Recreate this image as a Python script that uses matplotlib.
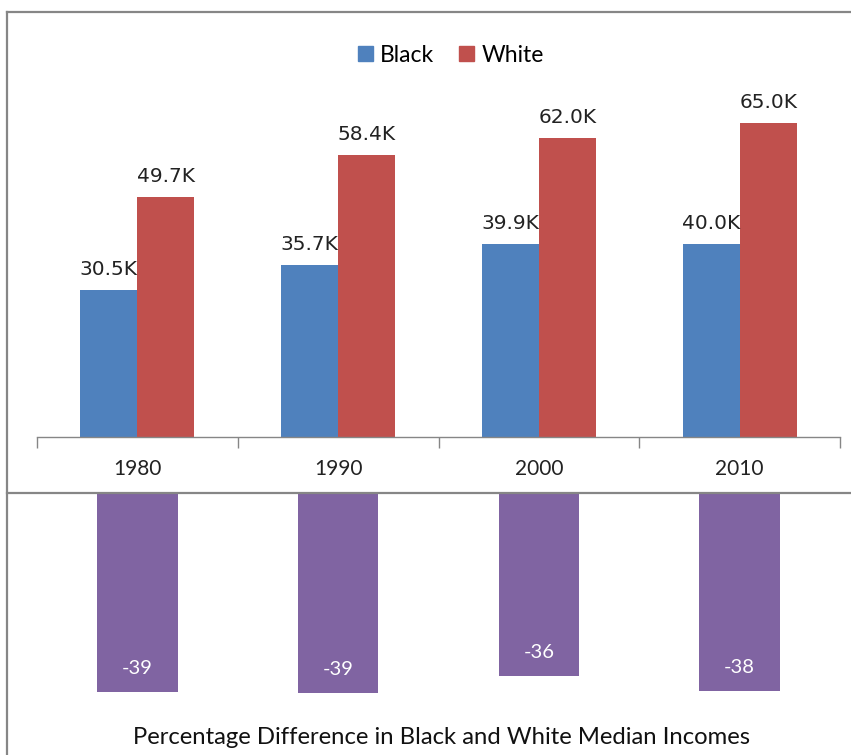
import matplotlib
matplotlib.use("Agg")
import matplotlib.pyplot as plt
from matplotlib.lines import Line2D
from matplotlib.patches import Patch

# data
years = ["1980", "1990", "2000", "2010"]
black = [30.5, 35.7, 39.9, 40.0]
white = [49.7, 58.4, 62.0, 65.0]
pct_diff = [-38.6, -38.9, -35.6, -38.4]
pct_labels = ["-39", "-39", "-36", "-38"]

BLUE = "#4F81BD"
RED = "#C0504D"
PURPLE = "#8064A2"
GRAY = "#868686"

W, H = 851, 755
fig = plt.figure(figsize=(W / 100, H / 100), dpi=100)
fig.patch.set_facecolor("white")


def fx(px):
    return px / W


def fy(py):
    return 1 - py / H


# top panel: grouped bars
ax = fig.add_axes([fx(37), fy(437), fx(840) - fx(37), fy(99) - fy(437)])
x = list(range(len(years)))
bw = 0.284
xb = [i - bw / 2 for i in x]
xw = [i + bw / 2 for i in x]
ax.bar(xb, black, bw, color=BLUE)
ax.bar(xw, white, bw, color=RED)
for xi, v in zip(xb, black):
    ax.text(xi, v + 2.3, f"{v:.1f}K", ha="center", va="bottom",
            fontsize=14.5, color="#222222", family="DejaVu Sans")
for xi, v in zip(xw, white):
    ax.text(xi, v + 2.3, f"{v:.1f}K", ha="center", va="bottom",
            fontsize=14.5, color="#222222", family="DejaVu Sans")

ax.set_xlim(-0.5, len(years) - 0.5)
ax.set_ylim(0, 70)
ax.set_yticks([])
ax.set_xticks(x)
ax.set_xticklabels(years, fontsize=15, family="Lato", color="#222222")
ax.tick_params(axis="x", which="major", length=0, pad=16)
ax.set_xticks([i - 0.5 for i in range(len(years) + 1)], minor=True)
ax.tick_params(axis="x", which="minor", length=8, width=1, color=GRAY, direction="out")
for s in ["top", "right", "left"]:
    ax.spines[s].set_visible(False)
ax.spines["bottom"].set_color(GRAY)
ax.spines["bottom"].set_linewidth(1)

handles = [Patch(color=BLUE, label="Black"), Patch(color=RED, label="White")]
fig.legend(handles=handles, loc="center", bbox_to_anchor=(fx(451), fy(55)), ncol=2,
           frameon=False, prop={"family": "Lato", "size": 16.5},
           handlelength=0.65, handleheight=0.65, handletextpad=0.3, columnspacing=1.1)

# bottom panel: percentage difference
ax2 = fig.add_axes([fx(37), fy(745), fx(840) - fx(37), fy(494) - fy(745)])
ax2.bar(x, pct_diff, 0.4, color=PURPLE)
for xi, v, lab in zip(x, pct_diff, pct_labels):
    ax2.text(xi, v + 4.6, lab, ha="center", va="center", fontsize=14.5,
             family="Lato", color="white")
ax2.set_xlim(-0.5, len(years) - 0.5)
ax2.set_ylim(-49.0, 0)
ax2.axis("off")

fig.text(fx(442), fy(737), "Percentage Difference in Black and White Median Incomes",
         ha="center", va="center", fontsize=17.2, family="Lato", color="#111111")

# frame lines
fig.add_artist(Line2D([fx(7), 1], [fy(12), fy(12)], color=GRAY, lw=1.6))
fig.add_artist(Line2D([fx(7), fx(7)], [fy(12), 0], color=GRAY, lw=1.6))
fig.add_artist(Line2D([fx(7), 1], [fy(493), fy(493)], color=GRAY, lw=1.6))

fig.savefig("out.png", dpi=100, facecolor="white")
